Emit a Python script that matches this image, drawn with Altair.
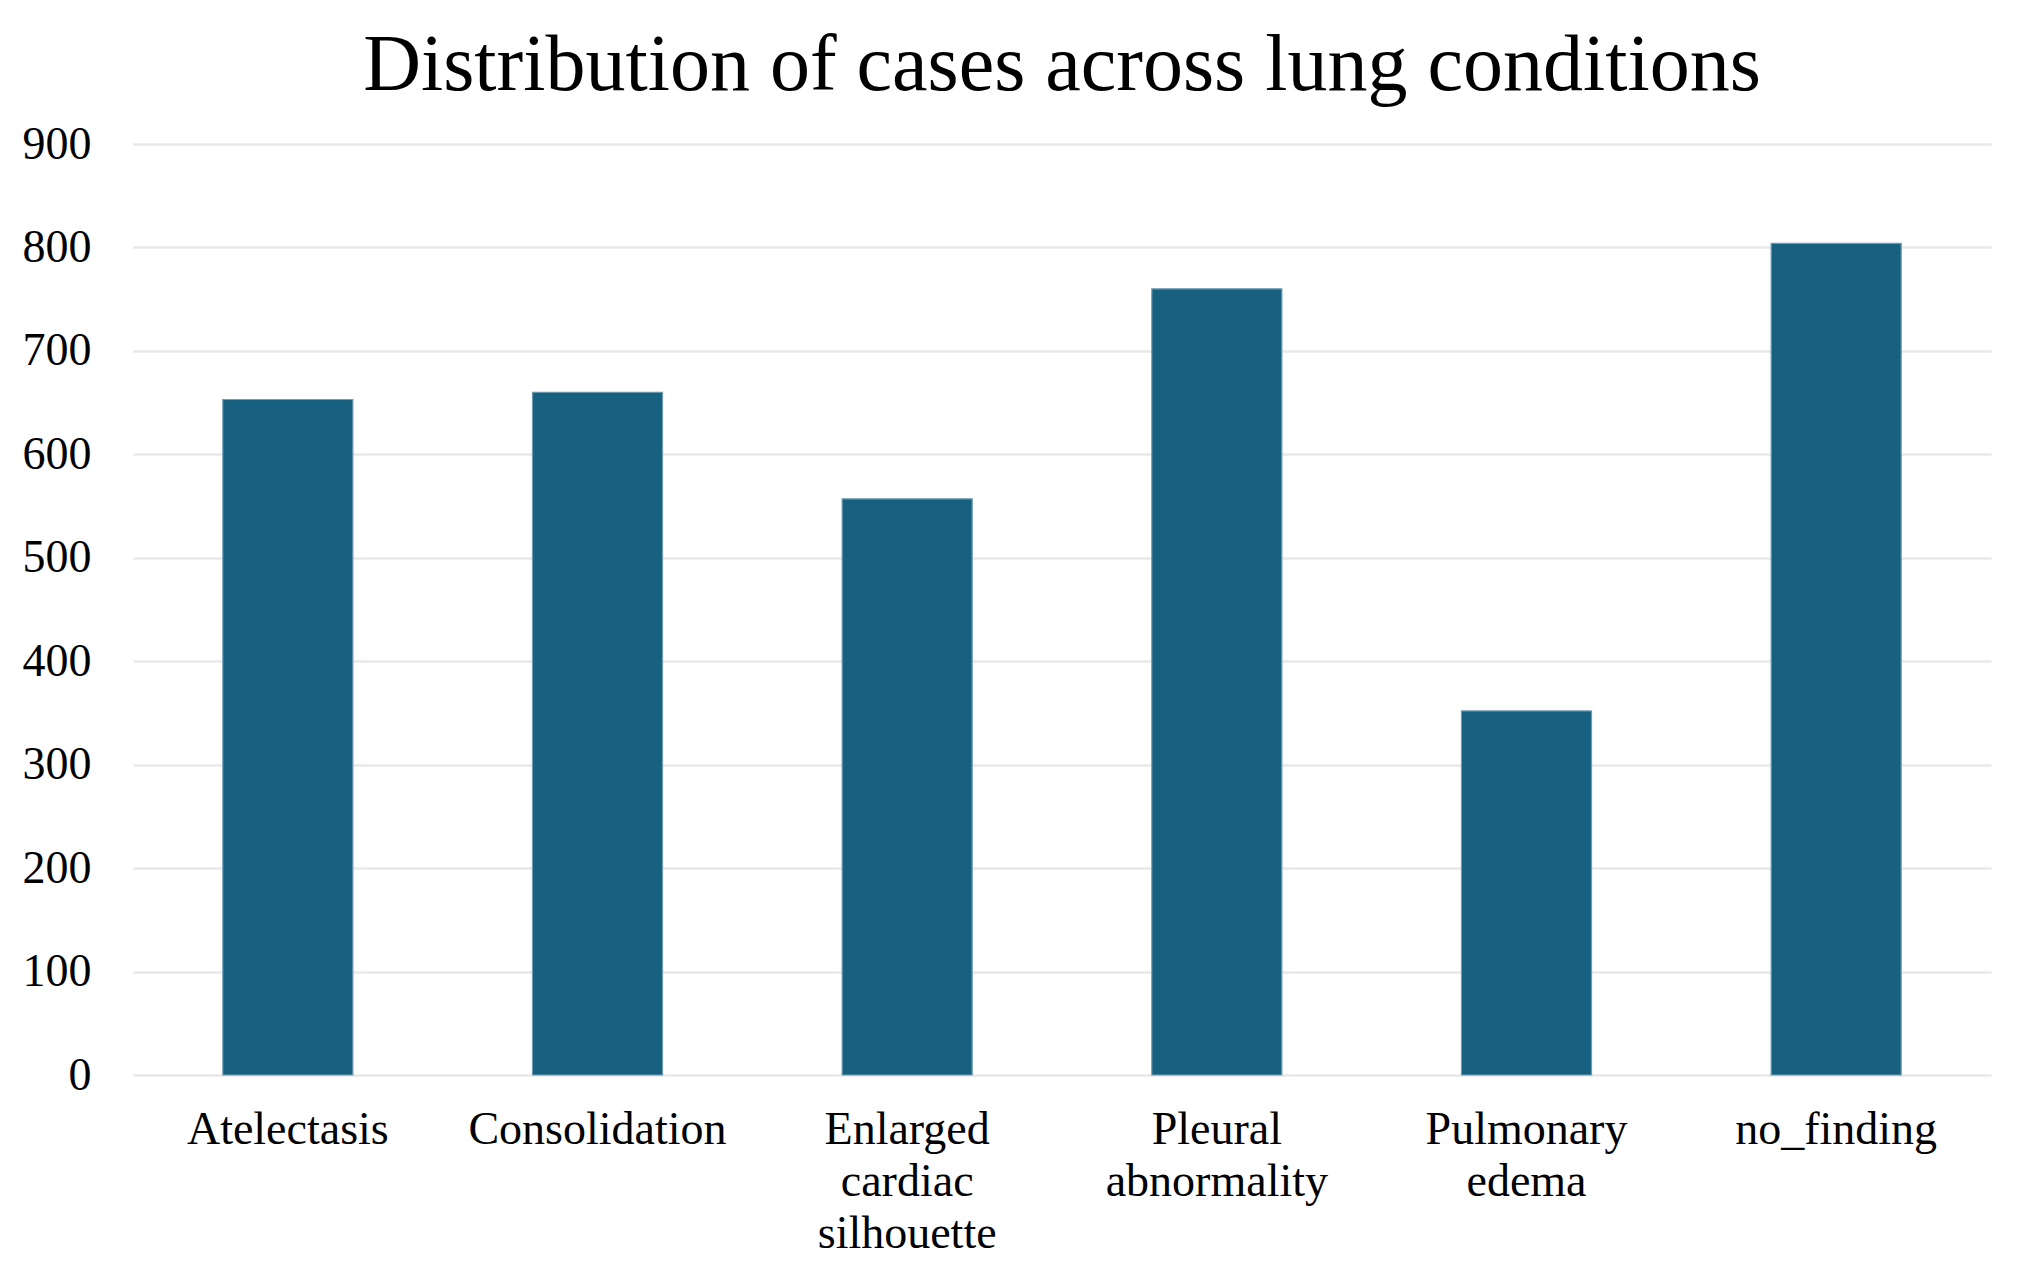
import altair as alt
import pandas as pd

categories = ["Atelectasis", "Consolidation", "Enlarged cardiac silhouette",
              "Pleural abnormality", "Pulmonary edema", "no_finding"]
cases = [653, 660, 557, 760, 352, 804]
y_ticks = [0, 100, 200, 300, 400, 500, 600, 700, 800, 900]

df = pd.DataFrame({"condition": categories, "cases": cases})

FONT = "Liberation Serif"

chart = alt.Chart(df).mark_bar(
    color="#17607f", stroke="#6f9cb3", strokeWidth=1.2
).encode(
    x=alt.X("condition:N", sort=categories, title=None,
            scale=alt.Scale(paddingInner=0.58, paddingOuter=0.29),
            axis=alt.Axis(labelAngle=0, domain=False, ticks=False, grid=False,
                          labelFont=FONT, labelFontSize=46, labelColor="#000000",
                          labelPadding=32, labelLineHeight=52, labelLimit=400,
                          labelExpr="split(datum.label, ' ')")),
    y=alt.Y("cases:Q", title=None,
            scale=alt.Scale(domain=[0, 900], nice=False),
            axis=alt.Axis(values=y_ticks, domain=False, ticks=False,
                          gridColor="#e8e8e8", gridWidth=2.5,
                          labelFont=FONT, labelFontSize=46, labelColor="#000000",
                          labelPadding=42))
).properties(
    width=1858, height=931,
    padding={"left": 125, "top": 136, "right": 10, "bottom": 200},
    autosize=alt.AutoSizeParams(type="none"),
    title=alt.TitleParams("Distribution of cases across lung conditions",
                          font=FONT, fontSize=80, fontWeight="normal",
                          color="#000000", anchor="middle", offset=14)
).configure_view(stroke=None)

chart.save("out.html", embed_options={"renderer": "svg", "actions": False})
